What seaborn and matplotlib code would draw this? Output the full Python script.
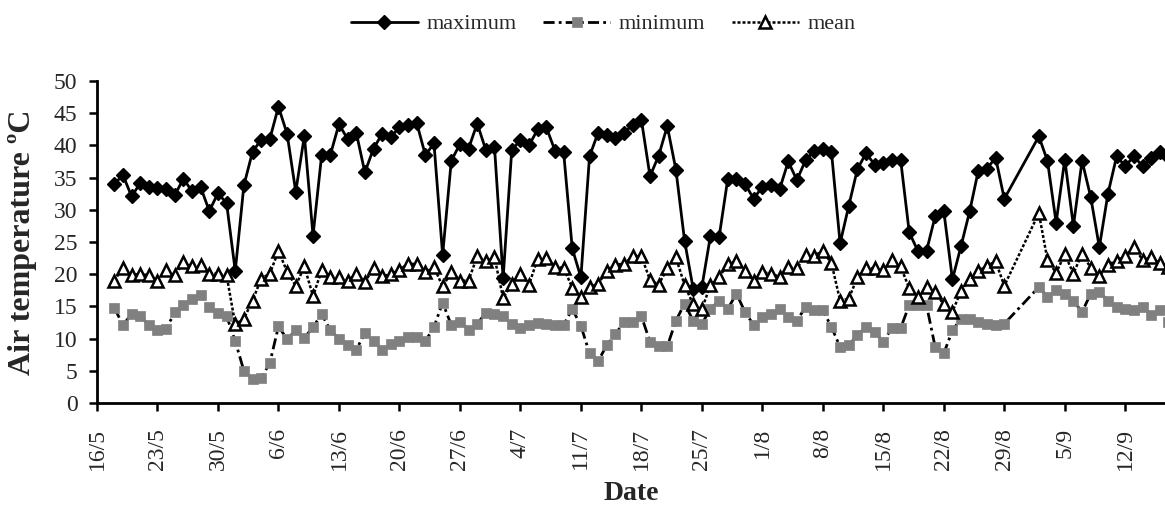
import pandas as pd
import seaborn as sns
import matplotlib.pyplot as plt

# daily air temperature, 18/5 - 17/9 (no record for 30/8, 31/8, 1/9)
maximum = [34.0, 35.4, 32.1, 34.1, 33.6, 33.4, 33.3, 32.3, 34.8, 32.9, 33.5, 29.8, 32.6, 31.0,
           20.5, 33.8, 39.0, 40.9, 41.0, 46.0, 41.8, 32.8, 41.5, 26.0, 38.5, 38.5, 43.3, 41.0,
           42.0, 35.8, 39.5, 41.8, 41.3, 42.8, 43.2, 43.5, 38.5, 40.3, 23.0, 37.6, 40.2, 39.5,
           43.4, 39.3, 39.8, 19.4, 39.3, 40.8, 40.0, 42.5, 42.8, 39.2, 39.0, 24.0, 19.5, 38.3,
           42.0, 41.6, 41.2, 42.0, 43.2, 44.0, 35.2, 38.4, 43.0, 36.2, 25.2, 17.7, 18.0, 26.0,
           25.8, 34.8, 34.8, 34.0, 31.7, 33.6, 33.8, 33.2, 37.5, 34.6, 37.7, 39.1, 39.5, 39.0,
           24.8, 30.6, 36.3, 38.8, 37.0, 37.2, 37.8, 37.8, 26.5, 23.6, 23.6, 29.0, 29.8, 19.2,
           24.4, 29.8, 36.1, 36.4, 38.1, 31.7,
           41.4, 37.6, 28.0, 37.8, 27.5, 37.6, 32.0, 24.2, 32.5, 38.3, 36.8, 38.3, 36.8, 38.0,
           38.9, 38.2]
minimum = [14.8, 12.1, 13.8, 13.5, 12.1, 11.3, 11.5, 14.1, 15.2, 16.1, 16.7, 14.9, 13.9, 13.5,
           9.6, 5.0, 3.8, 3.9, 6.2, 11.9, 9.9, 11.3, 10.1, 11.8, 13.8, 11.3, 10.0, 9.0,
           8.3, 10.8, 9.6, 8.3, 9.2, 9.6, 10.2, 10.2, 9.6, 11.8, 15.6, 12.1, 12.6, 11.4,
           12.3, 14.0, 13.8, 13.5, 12.3, 11.6, 12.1, 12.4, 12.2, 12.1, 12.1, 14.6, 12.0, 7.7,
           6.5, 9.0, 10.7, 12.6, 12.6, 13.5, 9.5, 8.8, 8.8, 12.8, 15.4, 12.8, 12.3, 14.6,
           15.9, 14.6, 17.0, 14.1, 12.1, 13.4, 13.8, 14.6, 13.4, 12.8, 14.9, 14.4, 14.4, 11.8,
           8.7, 9.0, 10.5, 11.8, 11.0, 9.5, 11.7, 11.6, 15.2, 15.2, 15.2, 8.7, 7.7, 11.3,
           13.1, 13.1, 12.6, 12.2, 12.1, 12.3,
           18.0, 16.5, 17.5, 17.0, 15.9, 14.1, 17.0, 17.2, 15.9, 14.9, 14.6, 14.4, 14.9, 13.6,
           14.4, 12.6]
mean = [19.0, 21.0, 19.8, 20.1, 19.8, 19.0, 20.6, 19.8, 21.9, 21.2, 21.4, 20.1, 20.1, 19.8,
        12.2, 13.1, 15.9, 19.3, 20.1, 23.6, 20.4, 18.2, 21.2, 16.6, 20.6, 19.6, 19.5, 19.0,
        20.1, 18.8, 20.9, 19.7, 20.0, 20.7, 21.6, 21.6, 20.3, 21.1, 18.1, 20.3, 19.0, 19.0,
        22.8, 22.0, 22.6, 16.3, 18.5, 20.1, 18.4, 22.4, 22.5, 21.1, 21.0, 17.9, 16.5, 18.0,
        18.5, 20.5, 21.5, 21.6, 22.8, 22.8, 19.1, 18.4, 20.9, 22.6, 18.3, 15.3, 14.6, 18.3,
        19.5, 21.6, 22.0, 20.5, 19.0, 20.3, 20.1, 19.6, 21.1, 20.9, 23.0, 22.9, 23.6, 21.7,
        15.9, 16.2, 19.5, 21.0, 20.9, 20.6, 22.2, 21.2, 17.8, 16.4, 18.0, 17.2, 15.3, 14.2,
        17.4, 19.3, 20.5, 21.3, 22.0, 18.2,
        29.5, 22.2, 20.2, 23.1, 20.1, 23.2, 21.0, 19.7, 21.5, 22.1, 22.8, 24.3, 22.2, 22.6,
        21.7, 21.1]

days = pd.date_range("2010-05-18", "2010-09-17")
missing = pd.to_datetime(["2010-08-30", "2010-08-31", "2010-09-01"])
dates = days[~days.isin(missing)]

tick_dates = pd.date_range("2010-05-16", periods=18, freq="7D")
tick_labels = [f"{d.day}/{d.month}" for d in tick_dates]

df = pd.DataFrame({"date": dates, "maximum": maximum, "minimum": minimum, "mean": mean})

sns.set_style("ticks")
plt.rcParams["font.family"] = ["Liberation Serif", "DejaVu Serif"]

fig = plt.figure(figsize=(11.65, 5.11), dpi=100)
ax = fig.add_axes([97 / 1165, 108 / 511, 1068 / 1165, 322 / 511])

sns.lineplot(data=df, x="date", y="maximum", ax=ax, color="black", linewidth=2,
             marker="D", markersize=7, markerfacecolor="black", markeredgecolor="black",
             markeredgewidth=1, label="maximum")
sns.lineplot(data=df, x="date", y="minimum", ax=ax, color="black", linewidth=2,
             linestyle=(0, (4, 1.5, 1, 1.5)), marker="s", markersize=7,
             markerfacecolor="#808080", markeredgecolor="#808080", markeredgewidth=0.5,
             label="minimum")
sns.lineplot(data=df, x="date", y="mean", ax=ax, color="black", linewidth=1.8,
             linestyle=(0, (1.2, 0.8)), marker="^", markersize=8,
             markerfacecolor="white", markeredgecolor="black", markeredgewidth=1.8,
             label="mean")

ax.set_xlim(tick_dates[0], tick_dates[0] + pd.Timedelta(days=123.6))
ax.set_ylim(0, 50)
ax.set_yticks(range(0, 51, 5))
ax.set_xticks(tick_dates)
ax.set_xticklabels(tick_labels, rotation=90)
ax.tick_params(axis="both", labelsize=17, width=1.8, length=6, color="black")
ax.tick_params(axis="x", pad=12)
ax.tick_params(axis="y", pad=8)

for side in ["top", "right"]:
    ax.spines[side].set_visible(False)
for side in ["left", "bottom"]:
    ax.spines[side].set_linewidth(2)
    ax.spines[side].set_color("black")

ax.set_xlabel("Date", fontsize=20, fontweight="bold", labelpad=8)
ax.set_ylabel("Air temperature ºC", fontsize=23, fontweight="bold", labelpad=12)

handles, labels = ax.get_legend_handles_labels()
ax.get_legend().remove()
fig.legend(handles, labels, loc="center", bbox_to_anchor=(0.518, 0.953), ncol=3,
           frameon=False, fontsize=16, handlelength=3.0, columnspacing=1.2, handletextpad=0.4)

fig.savefig("out.png", dpi=100)
